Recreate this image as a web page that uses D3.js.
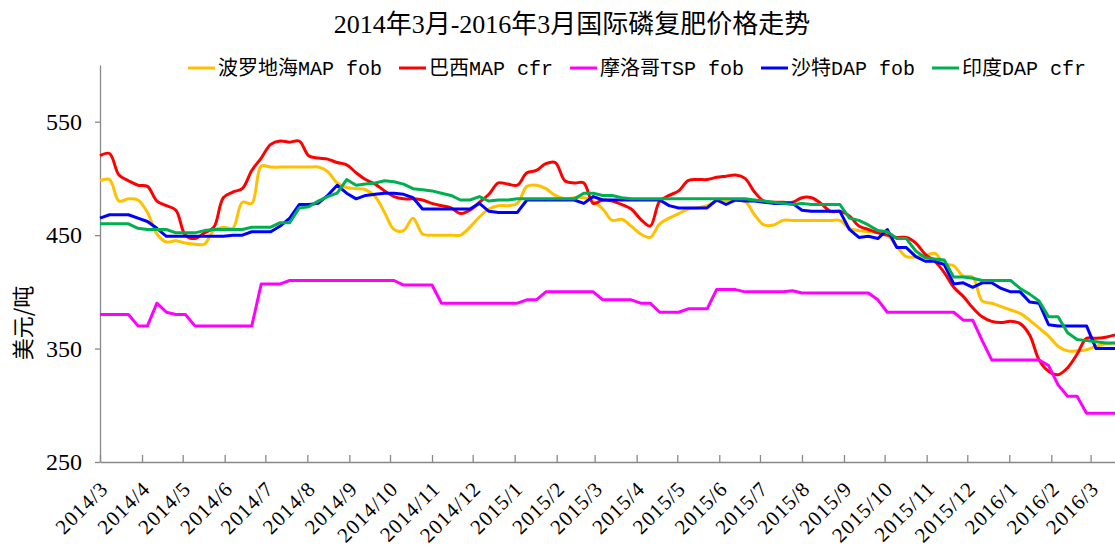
<!DOCTYPE html>
<html>
<head>
<meta charset="utf-8">
<script src="https://cdn.jsdelivr.net/npm/d3@7"></script>
<style>
  body { margin: 0; background: #fff; }
  svg text { fill: #000; }
</style>
</head>
<body>
<div id="chart"></div>
<script>
// weekly prices, first week starts 2014-03-01 (108 weeks)
const startDate = new Date(2014, 2, 1);
const endDate = new Date(2016, 2, 19);

const seriesNames = ['波罗地海MAP fob', '巴西MAP cfr', '摩洛哥TSP fob', '沙特DAP fob', '印度DAP cfr'];
const seriesColors = ['#FFC000', '#FF0000', '#FF00FF', '#0000FF', '#00B050'];

const balticMAP = [498,499,480,482,481,470,451,444,445,443,442,442,454,457,456,479,478,511,510,510,
  510,510,510,510,506,496,492,491,490,484,470,455,454,465,451,450,450,450,450,457,
  466,473,476,476,478,493,494,491,485,482,483,483,480,473,463,464,458,451,448,460,
  465,469,473,474,476,480,480,481,480,468,459,459,463,463,463,463,463,463,463,456,
  454,453,453,450,440,431,431,432,434,425,423,414,413,392,390,387,384,381,375,368,
  361,352,348,348,349,352,354,355];
const brazilMAP = [520,522,503,498,494,493,480,476,472,450,447,452,457,483,488,491,507,518,530,533,
  532,533,520,518,517,514,512,505,499,495,489,484,482,482,481,478,476,474,469,472,
  479,486,496,495,494,505,507,513,514,498,496,496,478,481,480,477,473,464,458,480,
  485,489,498,499,499,501,502,503,500,488,480,479,479,479,483,483,478,471,471,467,
  458,455,452,450,448,448,443,433,427,417,404,396,386,378,374,373,374,372,362,340,
  330,327,333,345,359,359,360,362];
const moroccoTSP = [380,380,380,380,370,370,390,382,380,380,370,370,370,370,370,370,370,407,407,407,
  410,410,410,410,410,410,410,410,410,410,410,410,406,406,406,406,390,390,390,390,
  390,390,390,390,390,393,393,400,400,400,400,400,400,393,393,393,393,390,390,382,
  382,382,385,385,385,402,402,402,400,400,400,400,400,401,399,399,399,399,399,399,
  399,399,393,382,382,382,382,382,382,382,382,375,375,357,340,340,340,340,340,340,
  335,318,308,308,293,293,293,293];
const saudiDAP = [465,468,468,468,465,462,456,449,449,449,449,449,449,449,450,450,453,453,453,458,
  465,477,477,478,485,494,487,482,485,486,487,487,486,483,473,473,473,473,473,473,
  478,471,470,470,470,481,481,481,481,481,481,478,484,481,481,481,481,481,481,481,
  476,474,474,474,474,481,477,481,480,480,479,478,478,478,472,471,471,471,471,455,
  448,449,447,455,439,439,431,427,427,424,407,408,404,408,408,403,400,400,391,390,
  371,370,370,370,370,350,350,350];
const indiaDAP = [460,460,460,460,456,455,455,455,452,452,452,454,455,455,455,455,457,457,457,461,
  461,474,475,480,484,487,499,494,495,496,498,497,495,491,490,489,487,485,481,481,
  484,480,481,481,482,482,482,482,482,482,482,487,487,485,485,483,482,482,482,482,
  482,482,482,482,482,482,482,482,482,481,480,479,478,477,478,477,477,477,477,465,
  463,459,454,453,447,447,436,430,429,428,413,413,412,410,410,410,410,403,398,392,
  378,378,364,358,357,356,355,355];

const monthLabels = ['2014/3','2014/4','2014/5','2014/6','2014/7','2014/8','2014/9','2014/10','2014/11','2014/12',
  '2015/1','2015/2','2015/3','2015/4','2015/5','2015/6','2015/7','2015/8','2015/9','2015/10','2015/11','2015/12',
  '2016/1','2016/2','2016/3'];
const yTicks = [250, 350, 450, 550];

const allSeries = [balticMAP, brazilMAP, moroccoTSP, saudiDAP, indiaDAP];
const smoothed = [true, true, false, false, false];

const w = 1115, h = 547;
const margin = {left: 100, top: 65, right: 0, bottom: 85};

const weeks = d3.range(balticMAP.length).map(i => d3.timeDay.offset(startDate, 7 * i));
const parseMonth = d3.timeParse('%Y/%m');

const svg = d3.select('#chart').append('svg')
  .attr('width', w)
  .attr('height', h)
  .style('display', 'block');

const xScale = d3.scaleTime()
  .domain([startDate, endDate])
  .range([margin.left, w - margin.right]);
const yScale = d3.scaleLinear()
  .domain([250, 600])
  .range([h - margin.bottom, margin.top]);

// title
svg.append('text')
  .attr('x', 572)
  .attr('y', 33)
  .attr('text-anchor', 'middle')
  .style('font-family', '"Liberation Serif", "Noto Sans CJK SC"')
  .style('font-size', '26px')
  .text('2014年3月-2016年3月国际磷复肥价格走势');

// axes
const yAxis = d3.axisLeft(yScale).tickValues(yTicks).tickSize(5).tickSizeOuter(0).tickPadding(13);
const gy = svg.append('g')
  .attr('transform', 'translate(' + margin.left + ',0)')
  .call(yAxis);
gy.selectAll('text')
  .style('font-family', '"Liberation Serif"')
  .style('font-size', '24px');

const xAxis = d3.axisBottom(xScale)
  .tickValues(monthLabels.map(parseMonth))
  .tickSizeInner(-7)
  .tickSizeOuter(0)
  .tickFormat((d, i) => monthLabels[i]);
const gx = svg.append('g')
  .attr('transform', 'translate(0,' + yScale(250) + ')')
  .call(xAxis);
gx.selectAll('text')
  .attr('x', 0).attr('y', 0).attr('dy', 0)
  .attr('text-anchor', 'end')
  .attr('transform', 'translate(9,28) rotate(-45)')
  .style('font-family', '"Liberation Serif"')
  .style('font-size', '21px')
  .style('letter-spacing', '1px');

svg.selectAll('.domain, .tick line')
  .attr('stroke', '#888')
  .attr('stroke-width', 1.3);

// y label
svg.append('text')
  .attr('transform', 'translate(23,323) rotate(-90)')
  .attr('text-anchor', 'middle')
  .attr('dy', '0.35em')
  .style('font-family', '"Noto Sans CJK SC"')
  .style('font-size', '22px')
  .text('美元/吨');

// lines
allSeries.forEach((values, k) => {
  const line = d3.line()
    .x((d, i) => xScale(weeks[i]))
    .y(d => yScale(d))
    .curve(smoothed[k] ? d3.curveCatmullRom.alpha(0.5) : d3.curveLinear);
  svg.append('path')
    .datum(values)
    .attr('d', line)
    .attr('fill', 'none')
    .attr('stroke', seriesColors[k])
    .attr('stroke-width', 3)
    .attr('stroke-linejoin', 'round');
});

// legend
const legend = svg.append('g');
let lx = 0;
seriesNames.forEach((name, k) => {
  const item = legend.append('g').attr('transform', 'translate(' + lx + ',0)');
  item.append('line')
    .attr('x1', 0).attr('x2', 27)
    .attr('y1', 0).attr('y2', 0)
    .attr('stroke', seriesColors[k])
    .attr('stroke-width', 3);
  const t = item.append('text')
    .attr('x', 30)
    .attr('dy', '0.35em')
    .style('font-family', '"Liberation Mono", "Noto Sans CJK SC"')
    .style('font-size', '20px')
    .text(name);
  lx += 30 + t.node().getComputedTextLength() + 17;
});
legend.attr('transform', 'translate(' + (637 - (lx - 17) / 2) + ',68)');
</script>
</body>
</html>
